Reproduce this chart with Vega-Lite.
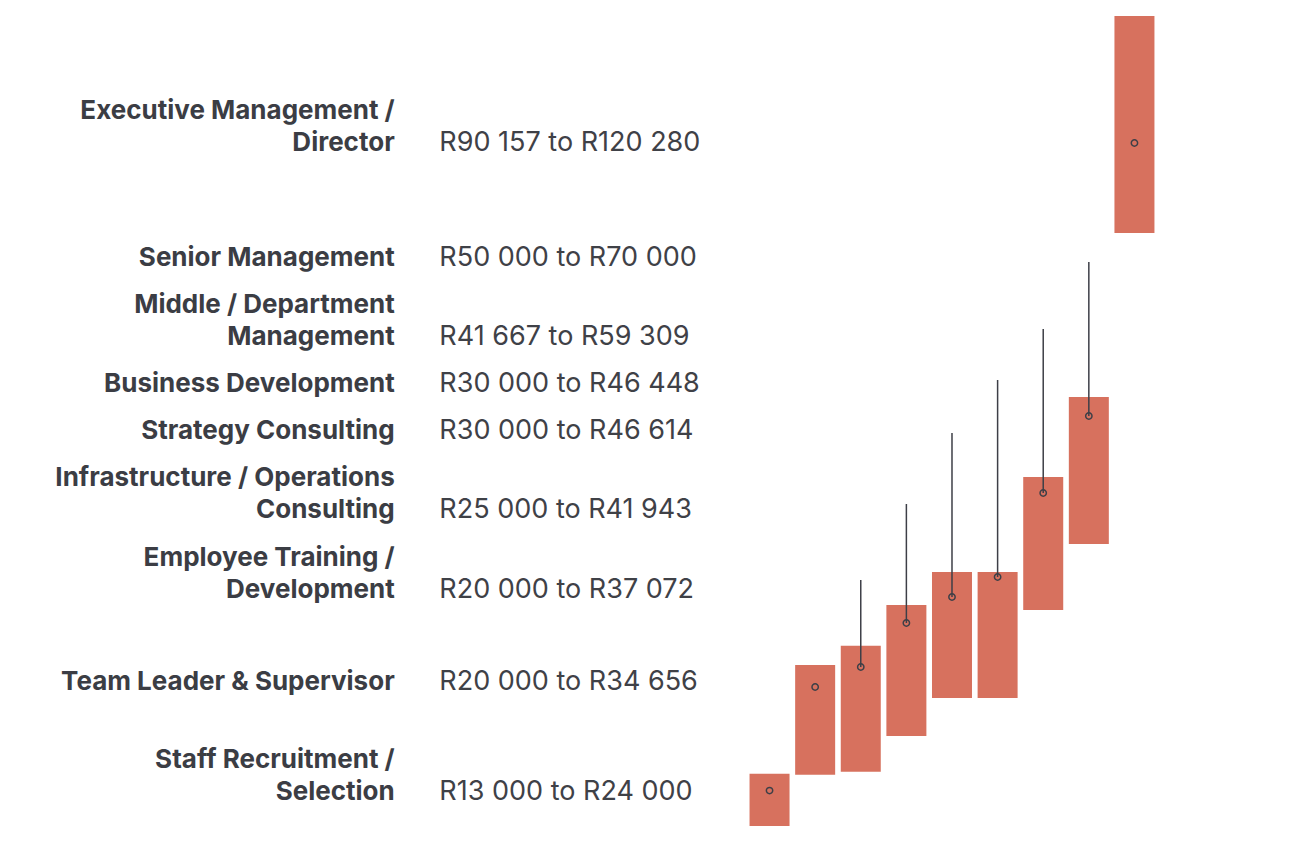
{
  "$schema": "https://vega.github.io/schema/vega-lite/v6.json",
  "width": 1193,
  "height": 855,
  "padding": 0,
  "autosize": {"type": "pad"},
  "background": "#ffffff",
  "config": {"view": {"stroke": null}, "font": "Inter"},
  "datasets": {
    "jobs": [
      {"slot": 1, "l1": "Staff Recruitment /", "l2": "Selection", "range": "R13 000 to R24 000", "lo": 12500, "hi": 19500, "dot": 17250, "lead": 17250, "row": 17060},
      {"slot": 2, "l2": "Team Leader & Supervisor", "range": "R20 000 to R34 656", "lo": 19350, "hi": 34050, "dot": 31100, "lead": 31100, "row": 31760},
      {"slot": 3, "l1": "Employee Training /", "l2": "Development", "range": "R20 000 to R37 072", "lo": 19750, "hi": 36600, "dot": 33770, "lead": 45400, "row": 44060},
      {"slot": 4, "l1": "Infrastructure / Operations", "l2": "Consulting", "range": "R25 000 to R41 943", "lo": 24550, "hi": 42050, "dot": 39650, "lead": 55560, "row": 54760},
      {"slot": 5, "l2": "Strategy Consulting", "range": "R30 000 to R46 614", "lo": 29630, "hi": 46470, "dot": 43130, "lead": 65050, "row": 65320},
      {"slot": 6, "l2": "Business Development", "range": "R30 000 to R46 448", "lo": 29630, "hi": 46470, "dot": 45800, "lead": 72140, "row": 71600},
      {"slot": 7, "l1": "Middle / Department", "l2": "Management", "range": "R41 667 to R59 309", "lo": 41390, "hi": 59170, "dot": 57030, "lead": 78960, "row": 77890},
      {"slot": 8, "l2": "Senior Management", "range": "R50 000 to R70 000", "lo": 50210, "hi": 69870, "dot": 67330, "lead": 87910, "row": 88450},
      {"slot": 9, "l1": "Executive Management /", "l2": "Director", "range": "R90 157 to R120 280", "lo": 91790, "hi": 120800, "dot": 103820, "lead": 103820, "row": 103820}
    ]
  },
  "data": {"name": "jobs"},
  "layer": [
    {
      "mark": {"type": "bar", "width": 40, "color": "#d3624d", "opacity": 0.9},
      "encoding": {
        "x": {"field": "slot", "type": "quantitative", "scale": {"domain": [-15.761, 10.174], "nice": false, "zero": false}, "axis": null},
        "y": {
          "field": "hi", "type": "quantitative",
          "scale": {"domain": [8636, 122941], "nice": false, "zero": false},
          "axis": {
            "orient": "right", "offset": -23, "title": null, "domain": false, "grid": false,
            "ticks": true, "tickSize": 23, "tickColor": "#eab2a8", "tickWidth": 1,
            "labelPadding": 11, "labelFont": "Inter", "labelFontSize": 19, "labelFontWeight": "bold",
            "labelColor": "#cf533f", "labelAlign": "left", "labelBaseline": "middle",
            "labelFlush": false, "labelOverlap": false, "labelBound": false,
            "labelExpr": "datum.value % 10000 === 0 ? 'R' + replace(format(datum.value, ','), ',', ' ') : ''",
            "values": [10000,11000,12000,13000,14000,15000,16000,17000,18000,19000,
                       20000,21000,22000,23000,24000,25000,26000,27000,28000,29000,
                       30000,31000,32000,33000,34000,35000,36000,37000,38000,39000,
                       40000,41000,42000,43000,44000,45000,46000,47000,48000,49000,
                       50000,51000,52000,53000,54000,55000,56000,57000,58000,59000,
                       60000,61000,62000,63000,64000,65000,66000,67000,68000,69000,
                       70000,71000,72000,73000,74000,75000,76000,77000,78000,79000,
                       80000,81000,82000,83000,84000,85000,86000,87000,88000,89000,
                       90000,91000,92000,93000,94000,95000,96000,97000,98000,99000,
                       100000,101000,102000,103000,104000,105000,106000,107000,108000,109000,
                       110000,111000,112000,113000,114000,115000,116000,117000,118000,119000,120000]
          }
        },
        "y2": {"field": "lo"}
      }
    },
    {
      "mark": {"type": "rule", "color": "#3d3f47", "strokeWidth": 1.5},
      "encoding": {
        "x": {"field": "slot", "type": "quantitative"},
        "y": {"field": "lead", "type": "quantitative", "axis": null},
        "y2": {"field": "dot"}
      }
    },
    {
      "mark": {"type": "point", "filled": false, "stroke": "#3d3f47", "strokeWidth": 1.5, "size": 40, "opacity": 1},
      "encoding": {
        "x": {"field": "slot", "type": "quantitative"},
        "y": {"field": "dot", "type": "quantitative", "axis": null}
      }
    },
    {
      "mark": {"type": "text", "align": "right", "baseline": "middle", "font": "Inter", "fontSize": 26, "fontWeight": 700, "color": "#3b3d44"},
      "encoding": {
        "x": {"datum": -7.217, "type": "quantitative"},
        "y": {"field": "row", "type": "quantitative", "axis": null},
        "text": {"field": "l2"}
      }
    },
    {
      "transform": [{"filter": "isValid(datum.l1)"}],
      "mark": {"type": "text", "align": "right", "baseline": "middle", "dy": -32, "font": "Inter", "fontSize": 26, "fontWeight": 700, "color": "#3b3d44"},
      "encoding": {
        "x": {"datum": -7.217, "type": "quantitative"},
        "y": {"field": "row", "type": "quantitative", "axis": null},
        "text": {"field": "l1"}
      }
    },
    {
      "mark": {"type": "text", "align": "left", "baseline": "middle", "font": "Inter", "fontSize": 27, "fontWeight": 400, "color": "#3f4147"},
      "encoding": {
        "x": {"datum": -6.239, "type": "quantitative"},
        "y": {"field": "row", "type": "quantitative", "axis": null},
        "text": {"field": "range"}
      }
    }
  ]
}
